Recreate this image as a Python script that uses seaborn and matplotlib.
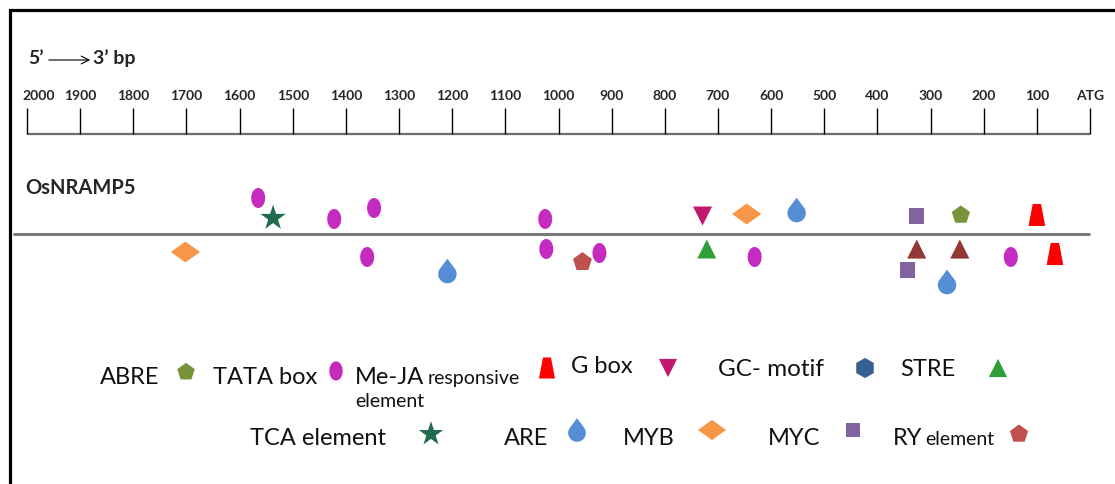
import numpy as np
import pandas as pd
import matplotlib.pyplot as plt
import seaborn as sns
from matplotlib.path import Path
from matplotlib.patches import Rectangle


# promoter ruler (bp upstream of ATG)
ruler_ticks = [2000, 1900, 1800, 1700, 1600, 1500, 1400, 1300, 1200, 1100,
               1000, 900, 800, 700, 600, 500, 400, 300, 200, 100, 0]
ruler_labels = ["2000", "1900", "1800", "1700", "1600", "1500", "1400", "1300",
                "1200", "1100", "1000", "900", "800", "700", "600", "500",
                "400", "300", "200", "100", "ATG"]

# cis-elements found in the OsNRAMP5 promoter
site_type = ["TATA box", "TCA element", "TATA box", "TATA box", "TATA box",
             "G box", "MYB", "ARE", "MYC", "ABRE", "Me-JA",
             "MYB", "TATA box", "ARE", "TATA box", "RY element", "TATA box",
             "STRE", "TATA box", "other", "MYC", "ARE", "other", "TATA box",
             "Me-JA"]
site_bp = [1565, 1537, 1422, 1347, 1025,
           729, 646, 552, 326, 243, 100,
           1702, 1360, 1209, 1023, 955, 923,
           721, 631, 326, 343, 269, 245, 149,
           66]
# vertical offset from the gene line (positive = below)
site_offset = [-36, -16, -15, -26, -15,
               -18, -20, -24, -18, -19, -19,
               18, 23, 37, 15, 28, 19,
               15, 23, 15, 36, 48, 15, 23,
               20]


def closed(verts):
    verts = np.asarray(verts, dtype=float)
    return Path(np.vstack([verts, verts[:1]]), closed=True)


t = np.linspace(0, 2 * np.pi, 60, endpoint=False)
ellipse = closed(np.column_stack([0.7 * np.sin(t), np.cos(t)]))
a = np.radians(np.linspace(143.13, 396.87, 50))
drop = closed(np.vstack([[0, 1], np.column_stack([0.75 * np.cos(a), -0.25 + 0.75 * np.sin(a)])]))
trapezoid = closed([(-0.38, 1), (0.38, 1), (0.76, -1), (-0.76, -1)])
diamond = closed([(-1, 0), (0, 0.72), (1, 0), (0, -0.72)])

styles = {
    "ABRE":        ("p", 190, "#77933C"),
    "TATA box":    (ellipse, 207, "#C62BBF"),
    "Me-JA":       (trapezoid, 250, "#FF0000"),
    "G box":       ("v", 187, "#C3176D"),
    "GC- motif":   ("h", 230, "#366092"),
    "STRE":        ("^", 187, "#2E9E3A"),
    "TCA element": ("*", 370, "#1F6B4B"),
    "ARE":         (drop, 313, "#558ED5"),
    "MYB":         (diamond, 441, "#F79646"),
    "MYC":         ("s", 117, "#8064A2"),
    "RY element":  ("p", 205, "#C0504D"),
    "other":       ("^", 190, "#953735"),
}

GENE_Y = 234

df = pd.DataFrame({"type": site_type, "bp": site_bp,
                   "y": [GENE_Y + o for o in site_offset]})

sns.set_style("white")
plt.rcParams["font.family"] = ["Lato", "DejaVu Sans"]

fig = plt.figure(figsize=(11.15, 4.84), dpi=100)
ax = fig.add_axes([0, 0, 1, 1])
ax.set_xlim(2050.8, -47.0)
ax.set_ylim(484, 0)
ax.axis("off")

lay = fig.add_axes([0, 0, 1, 1], facecolor="none")
lay.set_xlim(0, 1115)
lay.set_ylim(484, 0)
lay.axis("off")

# frame
fig.patches.append(Rectangle((10 / 1115, -0.2), 1.2, 1 - 10 / 484 + 0.2,
                             transform=fig.transFigure, fill=False,
                             lw=2.3, edgecolor="black"))

# ruler
ax.hlines(134, ruler_ticks[0], ruler_ticks[-1], color="#6d6d6d", lw=1.6)
ax.vlines(ruler_ticks, 108, 134, color="black", lw=1.0)
for i, (bp, lab) in enumerate(zip(ruler_ticks, ruler_labels)):
    if i == 0:
        ax.text(bp + 8, 96, lab, ha="left", va="center", fontsize=10, fontweight="bold")
    else:
        ax.text(bp, 96, lab, ha="center", va="center", fontsize=10, fontweight="bold")

lay.text(28, 58, "5’", ha="left", va="center", fontsize=14, fontweight="bold")
lay.annotate("", xy=(93, 60), xytext=(46, 60),
             arrowprops=dict(arrowstyle="->", lw=0.8, color="black", mutation_scale=14))
lay.text(93, 58, "3’ bp", ha="left", va="center", fontsize=14, fontweight="bold")

# gene
lay.text(25, 188, "OsNRAMP5", ha="left", va="center", fontsize=14.5, fontweight="bold")
ax.hlines(GENE_Y, 2026, 0, color="#7a7a7a", lw=2.2)

for name, sub in df.groupby("type"):
    marker, size, color = styles[name]
    sns.scatterplot(data=sub, x="bp", y="y", marker=marker, s=size, color=color,
                    edgecolor="none", linewidth=0, ax=ax, zorder=3, legend=False)

# legend (drawn by hand, like the original slide)
legend_text = [
    (100, 384, "ABRE", 17), (213, 384, "TATA box", 17), (355, 384, "Me-JA", 17),
    (428, 384, "responsive", 14), (355, 407, "element", 14),
    (571, 373, "G box", 17), (718, 376, "GC- motif", 17.5), (900, 376, "STRE", 17),
    (250, 445, "TCA element", 17), (504, 445, "ARE", 17), (623, 445, "MYB", 17),
    (768, 445, "MYC", 17), (893, 445, "RY", 17), (925, 445, "element", 14),
]
for x, y, txt, fs in legend_text:
    lay.text(x, y, txt, ha="left", va="baseline", fontsize=fs, color="#111111")

legend_keys = [
    (186, 372, "ABRE"), (336, 371, "TATA box"), (547, 368, "Me-JA"),
    (668, 368, "G box"), (865, 368, "GC- motif"), (998, 368, "STRE"),
    (431, 434, "TCA element"), (577, 430, "ARE"), (712, 430, "MYB"),
    (853, 430, "MYC"), (1019, 434, "RY element"),
]
for x, y, name in legend_keys:
    marker, size, color = styles[name]
    lay.scatter([x], [y], marker=marker, s=size * 0.92, color=color,
                edgecolor="none", linewidth=0, zorder=3)

fig.savefig("out.png", dpi=100)
